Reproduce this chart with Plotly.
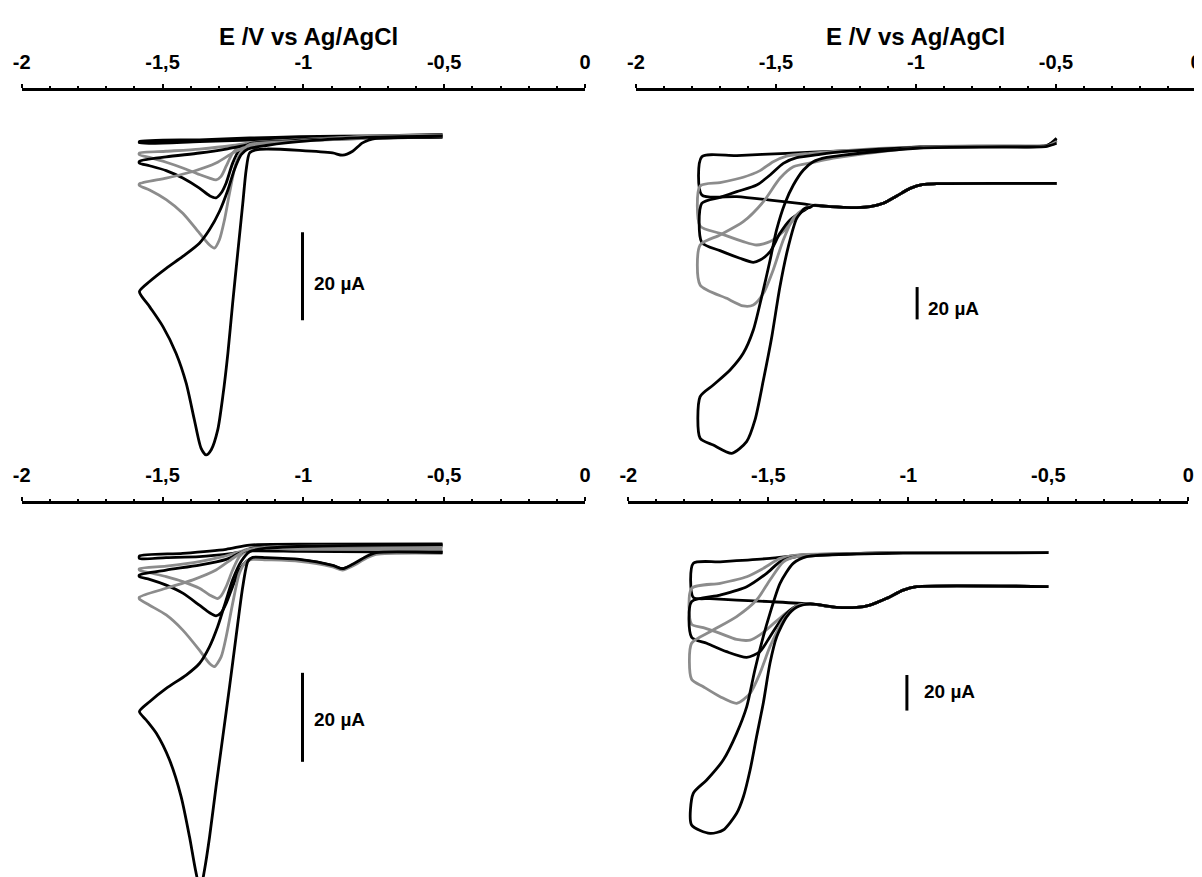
import plotly.graph_objects as go

# ---------------- data (E in V vs Ag/AgCl, I in µA) ----------------
TICK_VALS = [-2, -1.5, -1, -0.5, 0]
TICK_TEXT = ["-2", "-1,5", "-1", "-0,5", "0"]
MINOR_VALS = [-1.9, -1.8, -1.7, -1.6, -1.4, -1.3, -1.2, -1.1,
              -0.9, -0.8, -0.7, -0.6, -0.4, -0.3, -0.2, -0.1]
AXIS_TITLE = "E /V vs Ag/AgCl"
SCALE_LABEL = "20 µA"
SCALE_UA = 20

# --- panel 1 (top left)
TL_B0_E = [-0.506, -0.742, -1.014, -1.191, -1.369, -1.582, -1.582, -1.369, -1.191, -1.014, -0.742, -0.506]
TL_B0_I = [-0.1, -0.3, -0.5, -0.8, -1.1, -1.4, -1.1, -0.7, -0.3, 0.0, 0.2, 0.5]

TL_G1_E = [-0.506, -0.742, -1.014, -1.191, -1.227, -1.251, -1.274, -1.292, -1.310, -1.333, -1.369, -1.428,
           -1.487, -1.546, -1.582, -1.582, -1.487, -1.369, -1.251, -1.191, -1.014, -0.742, -0.506]
TL_G1_I = [0.1, -0.2, -0.8, -1.4, -2.2, -3.7, -6.7, -9.0, -9.8, -9.4, -8.6, -7.1,
           -5.8, -4.7, -4.1, -3.7, -3.3, -2.8, -2.0, -1.4, -0.7, 0.1, 0.3]

TL_B1_E = [-0.506, -0.742, -1.014, -1.191, -1.227, -1.251, -1.274, -1.292, -1.310, -1.333, -1.369, -1.428,
           -1.487, -1.546, -1.582, -1.582, -1.487, -1.369, -1.274, -1.191, -1.014, -0.742, -0.506]
TL_B1_I = [0.0, -0.3, -0.9, -1.6, -3.0, -6.0, -10.5, -12.8, -13.9, -13.4, -11.7, -9.4,
           -7.7, -6.6, -6.0, -5.6, -4.6, -3.7, -2.8, -1.8, -0.8, -0.1, 0.2]

TL_G2_E = [-0.506, -0.742, -1.014, -1.191, -1.215, -1.239, -1.262, -1.280, -1.298, -1.316, -1.333, -1.369,
           -1.428, -1.487, -1.546, -1.582, -1.582, -1.487, -1.392, -1.310, -1.251, -1.215, -1.132, -0.955,
           -0.742, -0.506]
TL_G2_I = [0.0, -0.3, -1.0, -1.8, -3.0, -6.0, -12.8, -18.9, -23.4, -25.3, -24.6, -21.9,
           -17.4, -14.3, -12.1, -11.1, -10.7, -9.4, -7.9, -6.0, -3.7, -2.6, -1.6, -0.7,
           0.1, 0.4]

TL_B2_E = [-0.506, -0.660, -0.742, -0.790, -0.825, -0.861, -0.896, -1.014, -1.132, -1.168, -1.191, -1.203,
           -1.215, -1.233, -1.251, -1.268, -1.286, -1.304, -1.327, -1.345, -1.363, -1.387, -1.416, -1.452,
           -1.499, -1.546, -1.582, -1.546, -1.487, -1.428, -1.369, -1.333, -1.298, -1.268, -1.245, -1.221,
           -1.197, -1.132, -0.955, -0.742, -0.506]
TL_B2_I = [-0.1, -0.2, -0.4, -1.4, -3.3, -4.2, -3.7, -3.1, -2.8, -3.0, -3.7, -7.5,
           -15.1, -26.4, -37.8, -49.2, -59.0, -66.6, -71.1, -72.3, -70.8, -64.3, -56.0, -49.2,
           -43.1, -38.6, -35.2, -32.9, -29.9, -27.2, -24.2, -21.1, -17.0, -12.1, -7.5, -4.1,
           -2.8, -2.0, -0.8, -0.1, 0.2]

# --- panel 2 (top right): common forward sweep, then each loop
TR_FWD_E = [-0.498, -0.688, -0.926, -0.974, -1.021, -1.069, -1.117, -1.164, -1.212, -1.260, -1.307, -1.367]
TR_FWD_I = [-22.7, -22.7, -22.9, -23.3, -25.8, -30.5, -35.0, -37.1, -37.7, -37.5, -37.1, -36.3]

TR_C1_E = [-1.402, -1.521, -1.640, -1.765, -1.765, -1.640, -1.462, -1.283, -1.069, -0.986, -0.688, -0.533, -0.498]
TR_C1_I = [-35.4, -33.0, -30.9, -29.9, -6.2, -5.5, -4.1, -2.7, -1.3, 0.0, 0.4, 0.9, 4.1]

TR_C2_E = [-1.402, -1.438, -1.474, -1.521, -1.569, -1.617, -1.700, -1.771, -1.771, -1.700, -1.617, -1.557,
           -1.510, -1.462, -1.379, -1.283, -0.986, -0.688, -0.533, -0.498]
TR_C2_I = [-39.1, -45.3, -52.5, -58.7, -60.8, -58.7, -53.6, -49.0, -24.3, -22.2, -18.9, -14.8,
           -9.3, -5.8, -4.1, -2.7, -0.2, 0.4, 0.6, 3.7]

TR_C3_E = [-1.402, -1.450, -1.486, -1.521, -1.557, -1.581, -1.629, -1.700, -1.765, -1.765, -1.700, -1.640,
           -1.569, -1.521, -1.474, -1.426, -1.343, -1.260, -0.986, -0.688, -0.533, -0.498]
TR_C3_I = [-39.6, -45.3, -53.6, -64.9, -70.1, -71.5, -69.0, -64.3, -59.3, -35.0, -31.3, -27.8,
           -23.7, -17.5, -10.3, -6.8, -4.7, -3.1, -0.4, 0.2, 0.6, 5.2]

TR_C4_E = [-1.402, -1.438, -1.474, -1.510, -1.545, -1.581, -1.617, -1.676, -1.771, -1.771, -1.700, -1.617,
           -1.545, -1.486, -1.438, -1.367, -1.283, -0.986, -0.688, -0.533, -0.498]
TR_C4_I = [-38.7, -44.3, -57.7, -76.2, -90.7, -97.9, -98.5, -93.8, -85.5, -60.8, -54.6, -46.4,
           -34.0, -19.5, -12.4, -9.7, -6.8, -0.6, 0.0, 0.4, 3.1]

TR_C5_E = [-1.379, -1.396, -1.426, -1.456, -1.486, -1.515, -1.545, -1.575, -1.605, -1.658, -1.724, -1.771,
           -1.771, -1.724, -1.664, -1.617, -1.581, -1.551, -1.521, -1.498, -1.468, -1.438, -1.402, -1.367,
           -1.319, -1.260, -0.986, -0.688, -0.533, -0.498]
TR_C5_I = [-37.5, -38.1, -44.3, -61.8, -86.6, -117.5, -144.3, -169.0, -182.4, -189.6, -184.5, -180.3,
           -154.6, -147.4, -138.1, -127.8, -113.4, -92.7, -70.1, -51.5, -35.0, -23.7, -14.4, -9.3,
           -6.6, -5.2, -0.8, -0.2, 0.2, 2.1]

# --- panel 3 (bottom left)
BL_B0_E = [-0.506, -0.742, -1.014, -1.191, -1.251, -1.369, -1.487, -1.582, -1.582, -1.428, -1.274, -1.191, -0.955, -0.506]
BL_B0_I = [-0.4, -0.4, -0.3, -0.2, -0.75, -1.5, -1.7, -1.9, -1.35, -0.75, 0.15, 1.1, 1.3, 1.35]

BL_G1_E = [-0.506, -0.742, -1.014, -1.191, -1.227, -1.251, -1.274, -1.292, -1.304, -1.333, -1.369, -1.428,
           -1.487, -1.546, -1.582, -1.582, -1.487, -1.369, -1.286, -1.227, -1.180, -0.955, -0.506]
BL_G1_I = [0.15, 0.15, 0.15, 0.15, -1.5, -4.5, -8.2, -10.3, -10.9, -10.1, -8.6, -7.1,
           -6.0, -5.1, -4.5, -4.2, -3.6, -2.6, -1.5, -0.4, 0.45, 0.75, 0.75]

BL_B1_E = [-0.506, -0.742, -0.778, -0.825, -0.861, -0.896, -1.014, -1.132, -1.180, -1.203, -1.227, -1.251,
           -1.274, -1.292, -1.310, -1.333, -1.369, -1.428, -1.487, -1.546, -1.582, -1.582, -1.487, -1.369,
           -1.274, -1.227, -1.180, -0.955, -0.506]
BL_B1_I = [-0.5, -0.75, -1.65, -3.4, -4.2, -3.5, -2.25, -1.9, -1.9, -2.6, -4.5, -8.2,
           -12.0, -14.1, -14.8, -14.1, -12.4, -9.7, -7.9, -6.6, -6.0, -5.6, -4.5, -3.4,
           -2.1, -0.75, 0.4, 0.9, 1.05]

BL_G2_E = [-0.506, -0.742, -0.778, -0.825, -0.861, -0.896, -1.014, -1.132, -1.180, -1.203, -1.227, -1.251,
           -1.274, -1.292, -1.316, -1.333, -1.369, -1.428, -1.487, -1.546, -1.582, -1.582, -1.487, -1.392,
           -1.310, -1.251, -1.203, -1.132, -0.955, -0.506]
BL_G2_I = [-0.75, -1.0, -1.9, -3.6, -4.5, -3.8, -2.55, -2.2, -2.1, -2.6, -5.2, -12.0,
           -19.5, -24.0, -26.2, -25.5, -22.5, -18.0, -14.6, -12.4, -11.0, -10.6, -8.6, -6.7,
           -4.5, -1.9, 0.0, 0.6, 0.9, 0.9]

BL_B2_E = [-0.506, -0.742, -0.778, -0.825, -0.861, -0.896, -1.014, -1.132, -1.180, -1.197, -1.215, -1.239,
           -1.262, -1.286, -1.310, -1.333, -1.351, -1.366, -1.383, -1.404, -1.434, -1.475, -1.522, -1.558,
           -1.582, -1.546, -1.487, -1.416, -1.369, -1.333, -1.304, -1.274, -1.251, -1.221, -1.191, -1.132,
           -0.955, -0.506]
BL_B2_I = [-0.6, -0.6, -1.5, -3.2, -4.2, -3.45, -2.1, -1.7, -1.65, -2.6, -8.2, -19.5,
           -30.7, -42.0, -53.2, -64.5, -71.9, -76.4, -71.9, -64.5, -55.4, -47.2, -41.2, -38.2,
           -36.3, -34.1, -31.1, -28.1, -25.5, -21.7, -17.2, -11.2, -6.7, -2.6, -0.4, 0.4,
           0.9, 1.2]

# --- panel 4 (bottom right): common forward sweep, then each loop
BR_FWD_E = [-0.500, -0.970, -1.018, -1.077, -1.137, -1.184, -1.256, -1.351]
BR_FWD_I = [-19.1, -19.1, -21.0, -25.6, -29.4, -30.7, -30.7, -28.8]

BR_C1_E = [-1.494, -1.613, -1.708, -1.768, -1.768, -1.672, -1.494, -1.375, -1.184, -1.018, -0.500]
BR_C1_I = [-27.5, -26.6, -25.8, -25.1, -6.0, -5.1, -3.2, -1.3, -0.4, 0.2, 0.2]

BR_C2_E = [-1.399, -1.446, -1.494, -1.530, -1.565, -1.613, -1.672, -1.732, -1.774, -1.774, -1.672, -1.577,
           -1.518, -1.458, -1.399, -1.184, -1.018, -0.500]
BR_C2_I = [-29.9, -35.0, -41.6, -46.2, -49.1, -48.7, -45.3, -42.1, -40.2, -20.0, -17.2, -13.5,
           -8.8, -3.2, -1.3, -0.4, 0.2, 0.2]

BR_C3_E = [-1.399, -1.446, -1.494, -1.530, -1.577, -1.649, -1.720, -1.774, -1.774, -1.672, -1.577, -1.506,
           -1.458, -1.399, -1.184, -1.018, -0.500]
BR_C3_I = [-29.9, -35.9, -47.2, -55.6, -58.8, -55.6, -50.9, -47.5, -27.5, -23.8, -19.1, -11.6,
           -5.1, -2.25, -0.6, 0.0, 0.0]

BR_C4_E = [-1.399, -1.446, -1.494, -1.530, -1.565, -1.613, -1.672, -1.732, -1.774, -1.774, -1.708, -1.613,
           -1.542, -1.494, -1.446, -1.399, -1.184, -1.018, -0.500]
BR_C4_I = [-29.9, -37.8, -52.8, -67.8, -79.0, -84.6, -80.9, -75.3, -71.1, -50.9, -44.4, -35.9,
           -26.6, -15.3, -5.1, -2.25, -0.4, 0.2, 0.2]

BR_C5_E = [-1.399, -1.434, -1.470, -1.494, -1.518, -1.542, -1.565, -1.589, -1.613, -1.661, -1.708, -1.774,
           -1.768, -1.720, -1.661, -1.613, -1.577, -1.548, -1.518, -1.494, -1.458, -1.411, -1.363, -1.184,
           -1.018, -0.500]
BR_C5_I = [-30.7, -35.9, -47.2, -62.1, -84.6, -103.4, -122.1, -137.1, -146.4, -155.8, -157.7, -153.0,
           -135.2, -127.7, -116.5, -101.5, -86.5, -65.9, -47.2, -34.1, -17.2, -6.0, -2.25, -0.7,
           -0.2, 0.0]

# ---------------- styling / layout ----------------
BLACK = "#000000"
GRAY = "#8c8c8c"
FONT = "Liberation Sans"
W, H = 1202, 877
PAGE_OFFSET = 8  # default page margin around the figure div


def px_x(p):
    return (p - PAGE_OFFSET) / W


def px_y(p):
    return 1 - (p - PAGE_OFFSET) / H


panels = [
    dict(ax="", xdom=(21.7, 585.0), ydom=(462.0, 90.7), yrange=(-73.9, 10.45),
         curves=[(TL_B0_E, TL_B0_I, BLACK), (TL_G1_E, TL_G1_I, GRAY), (TL_B1_E, TL_B1_I, BLACK),
                 (TL_G2_E, TL_G2_I, GRAY), (TL_B2_E, TL_B2_I, BLACK)],
         bar=(-1.003, -21.7), label=(-0.968, -33.3)),
    dict(ax="2", xdom=(636.0, 1196.0), ydom=(462.0, 90.7), yrange=(-195.0, 34.63),
         curves=[(TR_FWD_E + TR_C1_E, TR_FWD_I + TR_C1_I, BLACK),
                 (TR_FWD_E + TR_C2_E, TR_FWD_I + TR_C2_I, GRAY),
                 (TR_FWD_E + TR_C3_E, TR_FWD_I + TR_C3_I, BLACK),
                 (TR_FWD_E + TR_C4_E, TR_FWD_I + TR_C4_I, GRAY),
                 (TR_FWD_E + TR_C5_E, TR_FWD_I + TR_C5_I, BLACK)],
         bar=(-0.996, -86.8), label=(-0.964, -99.8)),
    dict(ax="3", xdom=(21.7, 585.0), ydom=(885.0, 504.3), yrange=(-75.28, 10.27),
         curves=[(BL_B0_E, BL_B0_I, BLACK), (BL_G1_E, BL_G1_I, GRAY), (BL_B1_E, BL_B1_I, BLACK),
                 (BL_G2_E, BL_G2_I, GRAY), (BL_B2_E, BL_B2_I, BLACK)],
         bar=(-1.003, -27.6), label=(-0.968, -38.2)),
    dict(ax="4", xdom=(628.3, 1188.3), ydom=(885.0, 504.3), yrange=(-186.7, 27.2),
         curves=[(BR_FWD_E + BR_C1_E, BR_FWD_I + BR_C1_I, BLACK),
                 (BR_FWD_E + BR_C2_E, BR_FWD_I + BR_C2_I, GRAY),
                 (BR_FWD_E + BR_C3_E, BR_FWD_I + BR_C3_I, BLACK),
                 (BR_FWD_E + BR_C4_E, BR_FWD_I + BR_C4_I, GRAY),
                 (BR_FWD_E + BR_C5_E, BR_FWD_I + BR_C5_I, BLACK)],
         bar=(-1.005, -68.7), label=(-0.952, -78.1)),
]

fig = go.Figure()
layout = dict(width=W, height=H, margin=dict(l=0, r=0, t=0, b=0, autoexpand=False),
              paper_bgcolor="white", plot_bgcolor="white", showlegend=False)

annotations = []
shapes = []
for p in panels:
    a = p["ax"]
    xname, yname = "x" + a, "y" + a
    for E, I, col in p["curves"]:
        fig.add_trace(go.Scatter(x=E, y=I, mode="lines", xaxis=xname, yaxis=yname,
                                 line=dict(color=col, width=2.8, shape="spline", smoothing=0.7),
                                 hoverinfo="skip"))
    layout["xaxis" + a] = dict(
        domain=[max(0.0, px_x(p["xdom"][0])), min(1.0, px_x(p["xdom"][1]))], anchor=yname, side="top",
        range=[-2, 0], showline=True, linecolor="black", linewidth=3,
        ticks="outside", ticklen=4, tickwidth=2, tickcolor="black",
        tickmode="array", tickvals=TICK_VALS, ticktext=TICK_TEXT,
        tickfont=dict(family=FONT, size=20, color="black", weight="bold"),
        ticklabelstandoff=7, automargin=False,
        minor=dict(tickmode="array", tickvals=MINOR_VALS, ticks="outside", ticklen=2,
                   tickwidth=2, tickcolor="black", showgrid=False),
        showgrid=False, zeroline=False, fixedrange=True)
    layout["yaxis" + a] = dict(
        domain=[max(0.0, px_y(p["ydom"][0])), min(1.0, px_y(p["ydom"][1]))], anchor=xname,
        range=list(p["yrange"]), visible=False, automargin=False, fixedrange=True)
    bx, by = p["bar"]
    shapes.append(dict(type="line", xref=xname, yref=yname, x0=bx, x1=bx, y0=by, y1=by - SCALE_UA,
                       line=dict(color="black", width=3)))
    lx, ly = p["label"]
    annotations.append(dict(xref=xname, yref=yname, x=lx, y=ly, text=SCALE_LABEL, showarrow=False,
                            xanchor="left", yanchor="middle",
                            font=dict(family=FONT, size=19, color="black", weight="bold")))

for cx in (308.7, 915.2):
    annotations.append(dict(xref="paper", yref="paper", x=px_x(cx), y=px_y(36.9), text=AXIS_TITLE,
                            showarrow=False, xanchor="center", yanchor="middle",
                            font=dict(family=FONT, size=24, color="black", weight="bold")))

layout["annotations"] = annotations
layout["shapes"] = shapes
fig.update_layout(**layout)
fig.write_html("out.html")
